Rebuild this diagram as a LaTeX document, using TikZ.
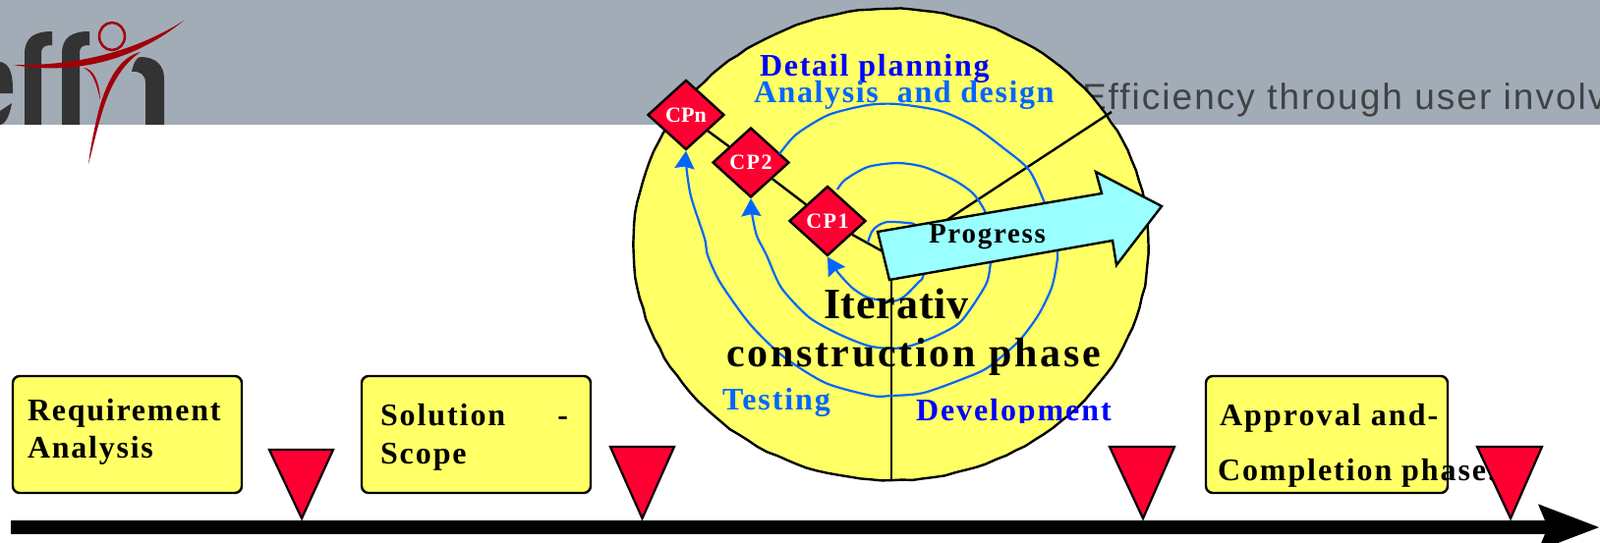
\documentclass[tikz,border=0pt]{standalone}
\usepackage{fontspec}
\setmainfont{Liberation Serif}
\newfontfamily\hdrfont{Liberation Sans}
\usetikzlibrary{shapes.geometric,arrows.meta,decorations.pathmorphing}
\definecolor{bandgrey}{HTML}{A2ACB6}
\definecolor{logodark}{HTML}{333333}
\definecolor{logored}{HTML}{A00008}
\definecolor{hdrtext}{HTML}{404244}
\definecolor{boxyellow}{HTML}{FFFF66}
\definecolor{cpred}{HTML}{FF0033}
\definecolor{lightblue}{HTML}{0066FF}
\definecolor{pureblue}{HTML}{0000FF}
\definecolor{progcyan}{HTML}{99FFFF}
\newcommand{\pxtext}[2]{\fontsize{#1}{#1}\selectfont\bfseries\addfontfeature{LetterSpace=#2}}
\tikzset{
  x=1pt,y=-1pt,
  lab/.style={anchor=base west,inner sep=0pt,outer sep=0pt},
  phasebox/.style={rectangle,rounded corners=7pt,draw=black,line width=2.4pt,fill=boxyellow,minimum width=#1,minimum height=119pt,inner sep=0pt},
  cpnode/.style={diamond,draw=black,line width=2.4pt,fill=cpred,text=white,inner sep=0pt,minimum width=78pt,minimum height=71pt},
  gate/.style={draw=black,line width=2.2pt,fill=cpred,line join=miter},
  axisline/.style={draw=black,line width=2.4pt},
  spiral/.style={draw=lightblue,line width=2.2pt,smooth,tension=0.45},
  spiralend/.style={-{Stealth[length=18pt,width=20pt,inset=2pt]}},
}
\begin{document}
\begin{tikzpicture}
\useasboundingbox (0,0) rectangle (1628,552);
\clip (0,0) rectangle (1628,552);
% header band
\fill[bandgrey] (0,0) rectangle (1628,127);
% logo letters
\begin{scope}
\clip (0,0) rectangle (200,127);
\fill[logodark] (0,63) .. controls (9,64) and (13,74) .. (13,90) -- (13,95) -- (0,95) -- cycle;
\fill[logodark] (0,113) -- (12,105) .. controls (10,118) and (5,127) .. (0,127) -- cycle;
\fill[logodark] (25,127) -- (25,55) .. controls (25,38) and (35,32) .. (53,32) -- (53,46) .. controls (46,46) and (42,47) .. (42,55) -- (42,127) -- cycle;
\fill[logodark] (63,127) -- (63,55) .. controls (63,38) and (73,32) .. (91,32) -- (91,46) .. controls (84,46) and (81,47) .. (81,55) -- (81,127) -- cycle;
\fill[logodark] (134,73) .. controls (136,64) and (139,58) .. (143,58) .. controls (158,58) and (167,66) .. (167,80) -- (167,127) -- (148,127) -- (148,84) .. controls (148,76) and (142,72) .. (134,73) -- cycle;
\end{scope}
% logo figure
\draw[logored,line width=2.5pt] (114,37) ellipse (13pt and 14pt);
\fill[logored] (13,66) .. controls (60,74) and (125,71) .. (187,21) .. controls (125,60) and (60,67) .. (13,66) -- cycle;
\fill[logored] (143,53) .. controls (122,58) and (110,80) .. (101,110) .. controls (96,130) and (92,150) .. (90,167) .. controls (96,145) and (100,125) .. (107,105) .. controls (114,85) and (125,65) .. (143,53) -- cycle;
\fill[logored] (85,69) .. controls (95,70) and (101,82) .. (102,102) .. controls (98,85) and (95,74) .. (85,69) -- cycle;
% header text
\node[lab,text=hdrtext] (hdr) at (1101,111) {\hdrfont\fontsize{37}{37}\selectfont\addfontfeature{LetterSpace=5.5}Efficiency through user involv};
% big iteration disc
\path[draw=black,line width=2.4pt,fill=boxyellow,decorate,decoration={random steps,segment length=11pt,amplitude=0.6pt}]
  (906.5,249) ellipse (262pt and 240pt);
\coordinate (hub) at (907,261);
\coordinate (discbottom) at (907,488);
\coordinate (discedge) at (1131,114);
\draw[axisline] (hub) -- (discbottom);
\draw[axisline] (hub) -- (discedge);
% checkpoints
\node[cpnode] (CPn) at (698,117) {\pxtext{22}{0}CPn};
\node[cpnode] (CP2) at (764,165.5) {\pxtext{22}{7}CP2};
\node[cpnode] (CP1) at (842,225) {\pxtext{22}{7}CP1};
\draw[axisline] (CPn) -- (CP2);
\draw[axisline] (CP2) -- (CP1);
\draw[axisline] (CP1) -- (hub);
% spirals
\draw[spiral,spiralend] plot coordinates {(883,247) (887,236) (893,230) (903,226) (923,227) (932,230) (945,255) (939,282) (935,287) (920,302) (907,307) (883,303) (867,293) (853,278) (846,268) (CP1.south)};
\draw[spiral,spiralend] plot coordinates {(852,193) (860,183) (883,170) (913,166) (940,170) (970,183) (990,197) (1003,217) (1010,245) (1008,267) (1003,290) (978,327) (953,342) (927,352) (907,355) (883,352) (853,340) (823,323) (795,293) (780,260) (770,240) (765,217) (CP2.south)};
\draw[spiral,spiralend] plot coordinates {(793,157) (810,137) (843,117) (883,107) (913,106) (957,113) (990,128) (1020,150) (1047,173) (1063,207) (1072,235) (1076,257) (1075,270) (1070,293) (1057,320) (1037,347) (1007,373) (987,383) (940,400) (907,403) (887,403) (840,390) (797,363) (763,330) (733,288) (720,260) (717,243) (703,200) (698,167) (CPn.south)};
% disc labels
\node[lab,text=pureblue] (dp) at (773,77) {\pxtext{32}{5.5}Detail planning};
\node[lab,text=lightblue] (ad) at (767,104) {\pxtext{32}{5}Analysis\ \ and design};
\begin{scope}
\clip (820,280) rectangle (1010,325);
\node[lab] (it1) at (838,324) {\pxtext{44}{2}Iterativ};
\end{scope}
\node[lab] (it2) at (739,373) {\pxtext{42}{6.5}construction phase};
\node[lab,text=lightblue] (te) at (735,417) {\pxtext{32}{6}Testing};
\begin{scope}
\clip (920,390) rectangle (1150,430);
\node[lab,text=pureblue] (de) at (932,428) {\pxtext{32}{6}Development};
\end{scope}
% progress arrow
\draw[draw=black,line width=2.4pt,fill=progcyan,line join=miter]
  (893,236) -- (1121,197) -- (1115,175) -- (1182,210) -- (1136,270) -- (1132,245) -- (905,285) -- cycle;
\node[lab] (pr) at (945,247) {\pxtext{29}{6}Progress};
% phase boxes
\node[phasebox=233pt] (b1) at (129.5,442.5) {};
\node[phasebox=233pt] (b2) at (484.5,442.5) {};
\node[phasebox=246pt] (b3) at (1350,442.5) {};
\node[lab] (t1a) at (28,428) {\pxtext{32}{5.5}Requirement};
\node[lab] (t1b) at (28,466) {\pxtext{32}{5.5}Analysis};
\node[lab] (t2a) at (387,433) {\pxtext{32}{6}Solution\hspace{53pt}-};
\node[lab] (t2b) at (387,472) {\pxtext{32}{6}Scope};
\node[lab] (t3a) at (1241,433) {\pxtext{32}{6.5}Approval and-};
\node[lab] (t3b) at (1239,489) {\pxtext{32}{6}Completion phase.};
% timeline
\coordinate (tlstart) at (11,537);
\coordinate (tlend) at (1628,537);
\draw[line width=14pt,-{Stealth[length=61pt,width=44pt,inset=8pt]}] (tlstart) -- (tlend);
% gates
\draw[gate] (274,458) -- (339,458) -- (307,528) -- cycle;
\draw[gate] (621,455) -- (686,455) -- (653.5,528) -- cycle;
\draw[gate] (1129,455) -- (1195,455) -- (1163,528) -- cycle;
\draw[gate] (1503,455) -- (1569,455) -- (1537,528) -- cycle;
\end{tikzpicture}
\end{document}
